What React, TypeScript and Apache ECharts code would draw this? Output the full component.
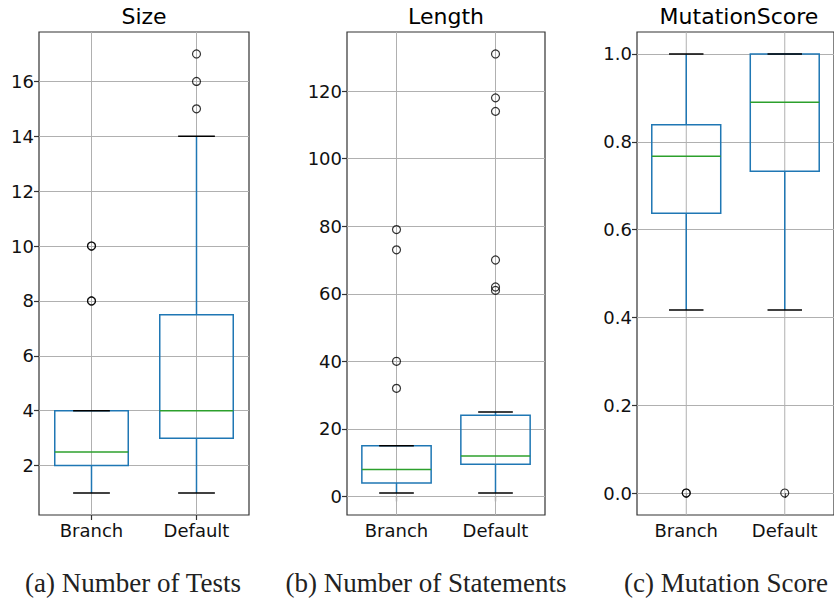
import React, { useEffect, useRef } from 'react';
import * as echarts from 'echarts';

const categories = ['Branch', 'Default'];
// each box: [whiskerLow, q1, median, q3, whiskerHigh]
const sizeBoxes = [
  [1, 2, 2.5, 4, 4],
  [1, 3, 4, 7.5, 14],
];
const sizeOutliers = [[0, 8], [0, 8], [0, 10], [0, 10], [1, 15], [1, 16], [1, 17]];
const lengthBoxes = [
  [1, 4, 8, 15, 15],
  [1, 9.5, 12, 24, 25],
];
const lengthOutliers = [[0, 32], [0, 40], [0, 73], [0, 79], [1, 61], [1, 62], [1, 70], [1, 114], [1, 118], [1, 131]];
const scoreBoxes = [
  [0.417, 0.637, 0.767, 0.839, 1.0],
  [0.417, 0.733, 0.89, 1.0, 1.0],
];
const scoreOutliers = [[0, 0], [0, 0], [1, 0]];

const sizeTicks = [2, 4, 6, 8, 10, 12, 14, 16];
const lengthTicks = [0, 20, 40, 60, 80, 100, 120];
const scoreTicks = [0, 0.2, 0.4, 0.6, 0.8, 1.0];

const titles = ['Size', 'Length', 'MutationScore'];
const captions = ['(a) Number of Tests', '(b) Number of Statements', '(c) Mutation Score'];

const BLUE = '#1f77b4';
const GREEN = '#2ca02c';
const GRID = '#b0b0b0';

const panels = [
  { boxes: sizeBoxes, outliers: sizeOutliers, ticks: sizeTicks, min: 0.2, max: 17.8, left: 39, width: 210, fmt: (v: number) => String(v) },
  { boxes: lengthBoxes, outliers: lengthOutliers, ticks: lengthTicks, min: -5.5, max: 137.5, left: 347, width: 198, fmt: (v: number) => String(v) },
  { boxes: scoreBoxes, outliers: scoreOutliers, ticks: scoreTicks, min: -0.05, max: 1.05, left: 637, width: 204, fmt: (v: number) => v.toFixed(1) },
];

const TOP = 32;
const HEIGHT = 483;

export default function App() {
  const ref = useRef<HTMLDivElement>(null);
  useEffect(() => {
    if (!ref.current) return;
    const chart = echarts.init(ref.current, undefined, { renderer: 'svg' });
    const grid: any[] = [];
    const xAxis: any[] = [];
    const yAxis: any[] = [];
    const series: any[] = [];
    const graphic: any[] = [];
    panels.forEach((p, i) => {
      grid.push({ left: p.left, top: TOP, width: p.width, height: HEIGHT, show: true, borderColor: '#333', borderWidth: 1.2, backgroundColor: 'transparent', containLabel: false });
      xAxis.push({
        type: 'category', gridIndex: i, data: categories, boundaryGap: true,
        axisLine: { show: false },
        axisTick: { show: true, alignWithLabel: true, length: 5, lineStyle: { color: '#333', width: 1.2 } },
        axisLabel: { color: '#111', fontSize: 18, fontFamily: 'DejaVu Sans', margin: 6 },
        splitLine: { show: false },
      });
      yAxis.push({
        type: 'value', gridIndex: i, min: p.min, max: p.max,
        axisLine: { show: false },
        axisTick: { show: true, length: 5, customValues: p.ticks, lineStyle: { color: '#333', width: 1.2 } },
        axisLabel: { color: '#111', fontSize: 18, fontFamily: 'DejaVu Sans', margin: 5, customValues: p.ticks, formatter: (v: number) => p.fmt(v) },
        splitLine: { show: true, lineStyle: { color: GRID, width: 1 } },
      });
      const yMin = p.min, yMax = p.max;
      series.push({
        type: 'custom', xAxisIndex: i, yAxisIndex: i,
        data: p.boxes.map((b, k) => [k, ...b]),
        encode: { x: 0, y: [1, 2, 3, 4, 5] },
        renderItem: (params: any, api: any) => {
          const cat = api.value(0);
          const lo = api.coord([cat, api.value(1)]);
          const q1 = api.coord([cat, api.value(2)]);
          const med = api.coord([cat, api.value(3)]);
          const q3 = api.coord([cat, api.value(4)]);
          const hi = api.coord([cat, api.value(5)]);
          const gTop = api.coord([cat, yMax]);
          const gBot = api.coord([cat, yMin]);
          const band = api.size([1, 0])[0];
          const hw = band * 0.35;
          const cw = band * 0.175;
          const x = lo[0];
          return {
            type: 'group',
            children: [
              { type: 'line', shape: { x1: x, y1: gTop[1], x2: x, y2: gBot[1] }, style: { stroke: GRID, lineWidth: 1 } },
              { type: 'line', shape: { x1: x, y1: q3[1], x2: x, y2: hi[1] }, style: { stroke: BLUE, lineWidth: 1.5 } },
              { type: 'line', shape: { x1: x, y1: q1[1], x2: x, y2: lo[1] }, style: { stroke: BLUE, lineWidth: 1.5 } },
              { type: 'rect', shape: { x: x - hw, y: q3[1], width: 2 * hw, height: q1[1] - q3[1] }, style: { fill: 'none', stroke: BLUE, lineWidth: 1.5 } },
              { type: 'line', shape: { x1: x - hw, y1: med[1], x2: x + hw, y2: med[1] }, style: { stroke: GREEN, lineWidth: 1.5 } },
              { type: 'line', shape: { x1: x - cw, y1: hi[1], x2: x + cw, y2: hi[1] }, style: { stroke: '#000', lineWidth: 1.5 } },
              { type: 'line', shape: { x1: x - cw, y1: lo[1], x2: x + cw, y2: lo[1] }, style: { stroke: '#000', lineWidth: 1.5 } },
            ],
          };
        },
      });
      series.push({
        type: 'scatter', xAxisIndex: i, yAxisIndex: i,
        data: p.outliers,
        symbol: 'circle', symbolSize: 8,
        itemStyle: { color: 'rgba(0,0,0,0)', borderColor: '#000', borderWidth: 1.2 },
      });
      graphic.push({
        type: 'text', x: p.left + p.width / 2, y: 16,
        style: { text: titles[i], font: '22px "DejaVu Sans"', fill: '#000', textAlign: 'center', textVerticalAlign: 'middle' },
      });
    });
    const capX = [133, 426, 726];
    captions.forEach((c, i) => {
      graphic.push({
        type: 'text', x: capX[i], y: 583,
        style: { text: c, font: '27px "Liberation Serif"', fill: '#222', textAlign: 'center', textVerticalAlign: 'middle' },
      });
    });
    chart.setOption({ animation: false, grid, xAxis, yAxis, series, graphic });
    return () => chart.dispose();
  }, []);
  return <div ref={ref} style={{ position: 'absolute', left: 0, top: 0, width: 834, height: 600 }} />;
}
